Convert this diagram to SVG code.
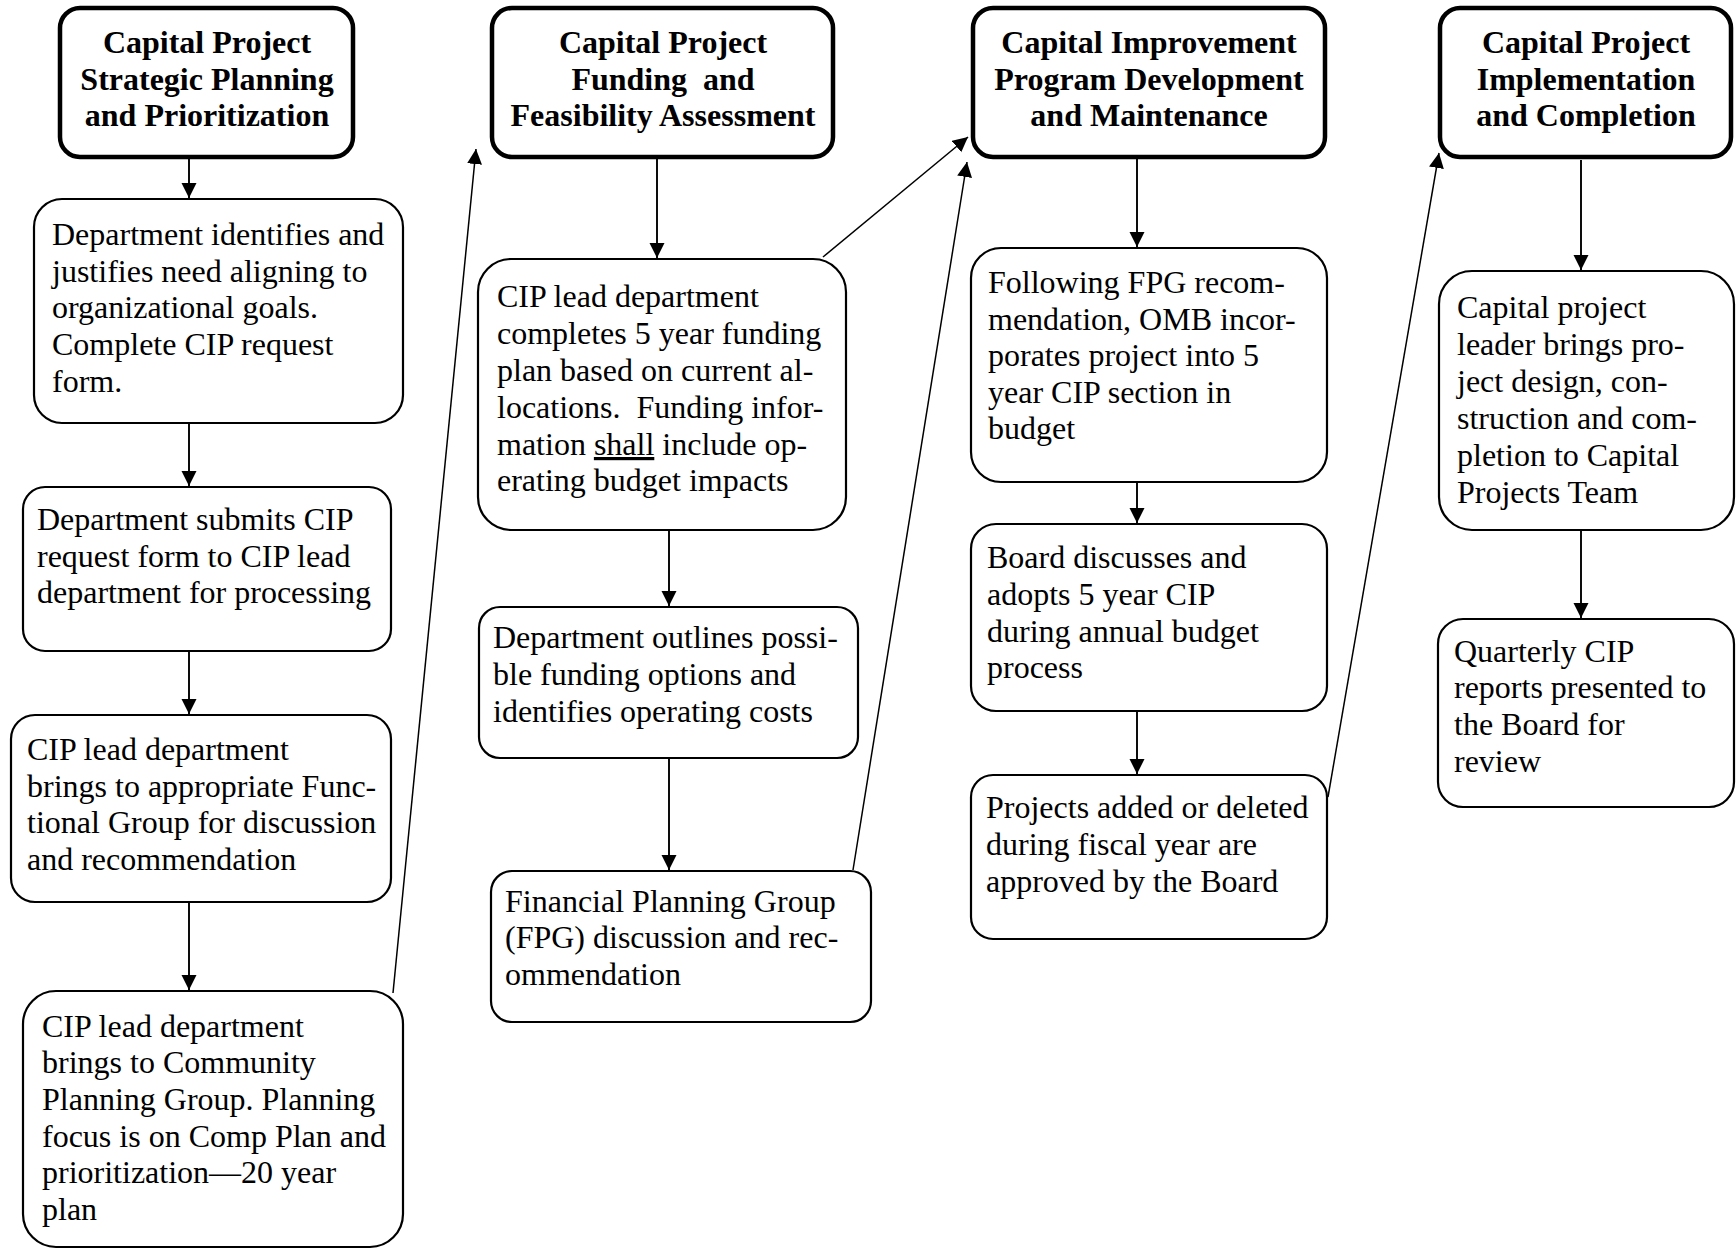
<svg xmlns="http://www.w3.org/2000/svg" width="1736" height="1249" viewBox="0 0 1736 1249">
  <style>
    .phase { fill: #ffffff; stroke: #000000; stroke-width: 4.5; }
    .step { fill: #ffffff; stroke: #000000; stroke-width: 2.2; }
    .title { font-family: "Liberation Serif", "Times New Roman", serif; font-size: 32px; font-weight: bold; text-anchor: middle; fill: #000000; }
    .body { font-family: "Liberation Serif", "Times New Roman", serif; font-size: 32px; fill: #000000; }
    .flow { stroke: #000000; stroke-width: 1.9; fill: none; marker-end: url(#head); }
    .jump { stroke: #000000; stroke-width: 1.5; fill: none; marker-end: url(#head); }
  </style>
  <defs>
    <marker id="head" markerUnits="userSpaceOnUse" markerWidth="16" markerHeight="16" refX="15" refY="7.5" orient="auto">
      <path d="M0,0 L15,7.5 L0,15 z" fill="#000000"/>
    </marker>
  </defs>

  <rect width="1736" height="1249" fill="#ffffff"/>

  <!-- connectors -->
  <g id="connectors">
    <line class="flow" x1="189" y1="159" x2="189" y2="198"/>
    <line class="flow" x1="189" y1="424" x2="189" y2="486"/>
    <line class="flow" x1="189" y1="652" x2="189" y2="714"/>
    <line class="flow" x1="189" y1="903" x2="189" y2="990"/>
    <line class="flow" x1="657" y1="159" x2="657" y2="258"/>
    <line class="flow" x1="669" y1="531" x2="669" y2="606"/>
    <line class="flow" x1="669" y1="759" x2="669" y2="870"/>
    <line class="flow" x1="1137" y1="148" x2="1137" y2="247"/>
    <line class="flow" x1="1137" y1="483" x2="1137" y2="523"/>
    <line class="flow" x1="1137" y1="712" x2="1137" y2="774"/>
    <line class="flow" x1="1581" y1="160" x2="1581" y2="270"/>
    <line class="flow" x1="1581" y1="531" x2="1581" y2="618"/>
    <line class="jump" x1="393" y1="993" x2="476" y2="149"/>
    <line class="jump" x1="823" y1="257" x2="968" y2="137"/>
    <line class="jump" x1="853" y1="870" x2="967" y2="162"/>
    <line class="jump" x1="1328" y1="797" x2="1439" y2="153"/>
  </g>

  <!-- phase headers -->
  <g id="phase-planning">
    <rect class="phase" x="60" y="8" width="293" height="149" rx="20"/>
    <text class="title" x="207" y="53">Capital Project</text>
    <text class="title" x="207" y="90">Strategic Planning</text>
    <text class="title" x="207" y="126">and Prioritization</text>
  </g>
  <g id="phase-funding">
    <rect class="phase" x="492" y="8" width="341" height="149" rx="20"/>
    <text class="title" x="663" y="53">Capital Project</text>
    <text class="title" x="663" y="90" xml:space="preserve">Funding  and</text>
    <text class="title" x="663" y="126">Feasibility Assessment</text>
  </g>
  <g id="phase-program">
    <rect class="phase" x="973" y="8" width="352" height="149" rx="20"/>
    <text class="title" x="1149" y="53">Capital Improvement</text>
    <text class="title" x="1149" y="90">Program Development</text>
    <text class="title" x="1149" y="126">and Maintenance</text>
  </g>
  <g id="phase-implementation">
    <rect class="phase" x="1440" y="8" width="291" height="149" rx="20"/>
    <text class="title" x="1586" y="53">Capital Project</text>
    <text class="title" x="1586" y="90">Implementation</text>
    <text class="title" x="1586" y="126">and Completion</text>
  </g>

  <!-- column 1 steps -->
  <g id="step-identify">
    <rect class="step" x="34" y="199" width="369" height="224" rx="28"/>
    <text class="body" x="52" y="245">Department identifies and</text>
    <text class="body" x="52" y="282">justifies need aligning to</text>
    <text class="body" x="52" y="318">organizational goals.</text>
    <text class="body" x="52" y="355">Complete CIP request</text>
    <text class="body" x="52" y="392">form.</text>
  </g>
  <g id="step-submit">
    <rect class="step" x="23" y="487" width="368" height="164" rx="22"/>
    <text class="body" x="37" y="530">Department submits CIP</text>
    <text class="body" x="37" y="567">request form to CIP lead</text>
    <text class="body" x="37" y="603">department for processing</text>
  </g>
  <g id="step-functional">
    <rect class="step" x="11" y="715" width="380" height="187" rx="24"/>
    <text class="body" x="27" y="760">CIP lead department</text>
    <text class="body" x="27" y="797">brings to appropriate Func-</text>
    <text class="body" x="27" y="833">tional Group for discussion</text>
    <text class="body" x="27" y="870">and recommendation</text>
  </g>
  <g id="step-community">
    <rect class="step" x="23" y="991" width="380" height="256" rx="33"/>
    <text class="body" x="42" y="1037">CIP lead department</text>
    <text class="body" x="42" y="1073">brings to Community</text>
    <text class="body" x="42" y="1110">Planning Group. Planning</text>
    <text class="body" x="42" y="1147">focus is on Comp Plan and</text>
    <text class="body" x="42" y="1183">prioritization—20 year</text>
    <text class="body" x="42" y="1220">plan</text>
  </g>

  <!-- column 2 steps -->
  <g id="step-funding-plan">
    <rect class="step" x="478" y="259" width="368" height="271" rx="33"/>
    <text class="body" x="497" y="307">CIP lead department</text>
    <text class="body" x="497" y="344">completes 5 year funding</text>
    <text class="body" x="497" y="381">plan based on current al-</text>
    <text class="body" x="497" y="418" xml:space="preserve">locations.  Funding infor-</text>
    <text class="body" x="497" y="455">mation <tspan text-decoration="underline">shall</tspan> include op-</text>
    <text class="body" x="497" y="491">erating budget impacts</text>
  </g>
  <g id="step-options">
    <rect class="step" x="479" y="607" width="379" height="151" rx="21"/>
    <text class="body" x="493" y="648">Department outlines possi-</text>
    <text class="body" x="493" y="685">ble funding options and</text>
    <text class="body" x="493" y="722">identifies operating costs</text>
  </g>
  <g id="step-fpg">
    <rect class="step" x="491" y="871" width="380" height="151" rx="21"/>
    <text class="body" x="505" y="912">Financial Planning Group</text>
    <text class="body" x="505" y="948">(FPG) discussion and rec-</text>
    <text class="body" x="505" y="985">ommendation</text>
  </g>

  <!-- column 3 steps -->
  <g id="step-omb">
    <rect class="step" x="971" y="248" width="356" height="234" rx="30"/>
    <text class="body" x="988" y="293">Following FPG recom-</text>
    <text class="body" x="988" y="330">mendation, OMB incor-</text>
    <text class="body" x="988" y="366">porates project into 5</text>
    <text class="body" x="988" y="403">year CIP section in</text>
    <text class="body" x="988" y="439">budget</text>
  </g>
  <g id="step-board-adopts">
    <rect class="step" x="971" y="524" width="356" height="187" rx="25"/>
    <text class="body" x="987" y="568">Board discusses and</text>
    <text class="body" x="987" y="605">adopts 5 year CIP</text>
    <text class="body" x="987" y="642">during annual budget</text>
    <text class="body" x="987" y="678">process</text>
  </g>
  <g id="step-amendments">
    <rect class="step" x="971" y="775" width="356" height="164" rx="22"/>
    <text class="body" x="986" y="818">Projects added or deleted</text>
    <text class="body" x="986" y="855">during fiscal year are</text>
    <text class="body" x="986" y="892">approved by the Board</text>
  </g>

  <!-- column 4 steps -->
  <g id="step-delivery">
    <rect class="step" x="1439" y="271" width="295" height="259" rx="33"/>
    <text class="body" x="1457" y="318">Capital project</text>
    <text class="body" x="1457" y="355">leader brings pro-</text>
    <text class="body" x="1457" y="392">ject design, con-</text>
    <text class="body" x="1457" y="429">struction and com-</text>
    <text class="body" x="1457" y="466">pletion to Capital</text>
    <text class="body" x="1457" y="503">Projects Team</text>
  </g>
  <g id="step-reports">
    <rect class="step" x="1438" y="619" width="296" height="188" rx="25"/>
    <text class="body" x="1454" y="662">Quarterly CIP</text>
    <text class="body" x="1454" y="698">reports presented to</text>
    <text class="body" x="1454" y="735">the Board for</text>
    <text class="body" x="1454" y="772">review</text>
  </g>
</svg>
